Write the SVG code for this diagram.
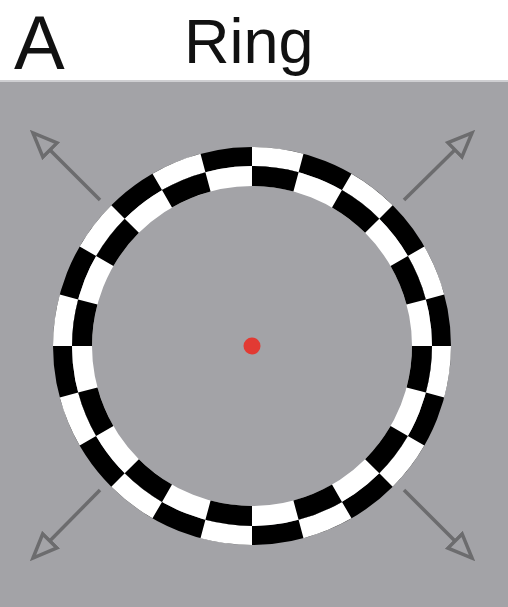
<svg xmlns="http://www.w3.org/2000/svg" width="508" height="607" viewBox="0 0 508 607">
<style>
.lbl{font-family:"Liberation Sans",Arial,sans-serif;fill:#111}
.arr{stroke:#6c6c6e;stroke-width:3.5;fill:none}
.ow{fill:none;stroke:#fff;stroke-width:19}
.ib{fill:none;stroke:#000;stroke-width:20}
</style>
<defs>
<marker id="ah" markerUnits="userSpaceOnUse" viewBox="-2 -14 30 28" markerWidth="30" markerHeight="28" refX="24" refY="0" orient="auto">
<path d="M0,-10 L24,0 L0,10 Z" fill="#a3a3a7" stroke="#6c6c6e" stroke-width="3.5" stroke-linejoin="miter"/>
</marker>
</defs>
<rect x="0" y="0" width="508" height="607" fill="#ffffff"/>
<rect x="0" y="81" width="508" height="526" fill="#a3a3a7"/>
<rect x="0" y="80" width="508" height="2" fill="#cfcfd2"/>
<text class="lbl" x="14" y="69" font-size="76">A</text>
<text class="lbl" x="184" y="63" font-size="63">Ring</text>
<g id="connectors">
<line class="arr" x1="100" y1="200" x2="33" y2="133" marker-end="url(#ah)"/>
<line class="arr" x1="404" y1="200" x2="472" y2="133" marker-end="url(#ah)"/>
<line class="arr" x1="100" y1="490" x2="33" y2="558" marker-end="url(#ah)"/>
<line class="arr" x1="404" y1="490" x2="472" y2="558" marker-end="url(#ah)"/>
</g>
<g id="ring">
<circle cx="252" cy="346" r="189.5" fill="none" stroke="#000" stroke-width="19"/>
<path class="ow" d="M441.5,346 A189.5,189.5 0 0 1 435.043,395.046 M416.111,440.75 A189.5,189.5 0 0 1 385.997,479.997 M346.75,510.111 A189.5,189.5 0 0 1 301.046,529.043 M252,535.5 A189.5,189.5 0 0 1 202.954,529.043 M157.25,510.111 A189.5,189.5 0 0 1 118.003,479.997 M87.889,440.75 A189.5,189.5 0 0 1 68.957,395.046 M62.5,346 A189.5,189.5 0 0 1 68.957,296.954 M87.889,251.25 A189.5,189.5 0 0 1 118.003,212.003 M157.25,181.889 A189.5,189.5 0 0 1 202.954,162.957 M252,156.5 A189.5,189.5 0 0 1 301.046,162.957 M346.75,181.889 A189.5,189.5 0 0 1 385.997,212.003 M416.111,251.25 A189.5,189.5 0 0 1 435.043,296.954"/>
<circle cx="252" cy="346" r="170" fill="none" stroke="#fff" stroke-width="20"/>
<path class="ib" d="M422,346 A170,170 0 0 1 416.207,390 M399.224,431 A170,170 0 0 1 372.208,466.208 M337,493.224 A170,170 0 0 1 296,510.207 M252,516 A170,170 0 0 1 208,510.207 M167,493.224 A170,170 0 0 1 131.792,466.208 M104.776,431 A170,170 0 0 1 87.793,390 M82,346 A170,170 0 0 1 87.793,302 M104.776,261 A170,170 0 0 1 131.792,225.792 M167,198.776 A170,170 0 0 1 208,181.793 M252,176 A170,170 0 0 1 296,181.793 M337,198.776 A170,170 0 0 1 372.208,225.792 M399.224,261 A170,170 0 0 1 416.207,302"/>
</g>
<g id="center">
<circle cx="252" cy="346" r="8.5" fill="#e23a33"/>
</g>
</svg>
